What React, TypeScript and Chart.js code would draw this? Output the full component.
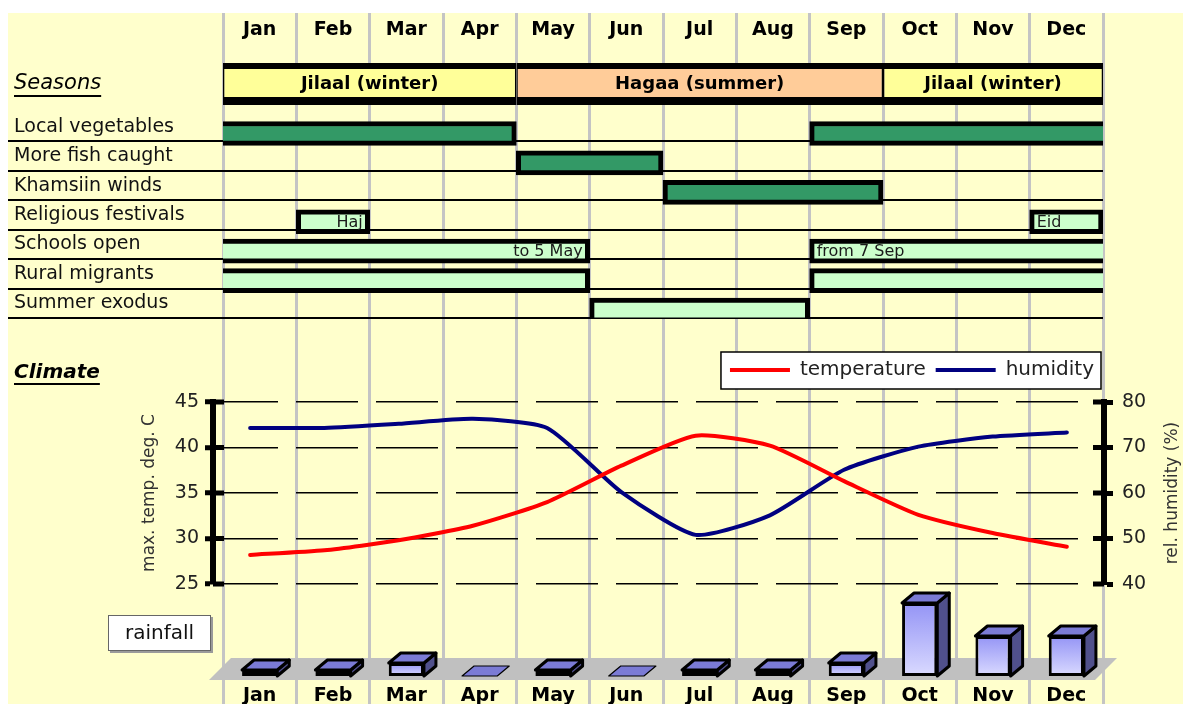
import React, { useEffect, useRef } from 'react';
import { Chart, registerables } from 'chart.js';

Chart.register(...registerables);

const W = 1183;
const H = 704;
const FONT = "'DejaVu Sans', 'Liberation Sans', Arial, sans-serif";
Chart.defaults.font.family = FONT;
Chart.defaults.color = '#222';

// ---------------- data ----------------
const months = ['Jan', 'Feb', 'Mar', 'Apr', 'May', 'Jun', 'Jul', 'Aug', 'Sep', 'Oct', 'Nov', 'Dec'];

const seasonsTitle = 'Seasons';
const seasonNames = ['Jilaal (winter)', 'Hagaa (summer)', 'Jilaal (winter)'];
const seasonStart = [0, 4, 9];
const seasonEnd = [4, 9, 12];

const activityRows = [
  'Local vegetables',
  'More fish caught',
  'Khamsiin winds',
  'Religious festivals',
  'Schools open',
  'Rural migrants',
  'Summer exodus',
];
const rowGroup = ['nature', 'nature', 'nature', 'society', 'society', 'society', 'society'];
const spanRow = [0, 0, 1, 2, 3, 3, 4, 4, 5, 5, 6];
const spanStart = [0, 8, 4, 6, 1, 11, 0, 8, 0, 8, 5];
const spanEnd = [4, 12, 6, 9, 2, 12, 5, 12, 5, 12, 8];
const spanNote = ['', '', '', '', 'Haj', 'Eid', 'to 5 May', 'from 7 Sep', '', '', ''];
const spanNoteAt = ['', '', '', '', 'end', 'start', 'end', 'start', '', '', ''];

const climateTitle = 'Climate';
const temperature = [28.2, 28.7, 29.8, 31.4, 34.0, 38.0, 41.3, 40.2, 36.3, 32.6, 30.6, 29.1];
const humidity = [74.3, 74.3, 75.2, 76.3, 74.3, 60.2, 50.8, 55.1, 65.1, 70.2, 72.4, 73.3];
const tempAxis = { min: 25, max: 45, step: 5, title: 'max. temp. deg. C' };
const humAxis = { min: 40, max: 80, step: 10, title: 'rel. humidity (%)' };

const rainfall = [3, 3, 6.5, 0, 3, 0, 3, 3, 6.5, 36.5, 20, 20];
const rainMax = 45;

// ---------------- charts ----------------
function makeBackground(canvas: HTMLCanvasElement) {
  return new Chart(canvas, {
    type: 'scatter',
    data: { datasets: [] },
    options: {
      responsive: false,
      animation: false,
      events: [],
      layout: { padding: { left: 223, right: 80, top: 13, bottom: 0 } },
      plugins: { legend: { display: false }, tooltip: { enabled: false } },
      scales: {
        x: {
          type: 'linear',
          min: 0,
          max: months.length,
          ticks: { display: false, stepSize: 1 },
          grid: { color: '#C4C4C4', lineWidth: 3, drawTicks: false },
          border: { display: false },
        },
        y: { display: false },
      },
    },
  } as any);
}

const seasonPlugin = {
  id: 'seasonText',
  afterDatasetsDraw(chart: any) {
    const { ctx } = chart;
    const meta = chart.getDatasetMeta(0);
    ctx.save();
    ctx.font = `bold 18px ${FONT}`;
    ctx.fillStyle = '#000';
    ctx.textAlign = 'center';
    ctx.textBaseline = 'middle';
    meta.data.forEach((bar: any, i: number) => {
      const p = bar.getProps(['x', 'base', 'y'], true);
      ctx.fillText(seasonNames[i], (p.x + p.base) / 2, p.y);
    });
    const ys = chart.scales.y;
    ctx.font = `italic 21px ${FONT}`;
    const w = ctx.measureText(seasonsTitle).width;
    ctx.fillRect(ys.left, ys.getPixelForValue(0) + 11, w, 2);
    ctx.restore();
  },
};

function makeHeader(canvas: HTMLCanvasElement) {
  return new Chart(canvas, {
    type: 'bar',
    data: {
      labels: [seasonsTitle],
      datasets: [
        {
          data: seasonNames.map((_, i) => ({ x: [seasonStart[i], seasonEnd[i]], y: seasonsTitle })),
          backgroundColor: ['#FFFF99', '#FFCC99', '#FFFF99'],
          borderColor: '#000',
          borderWidth: { top: 6, bottom: 8, left: 1.5, right: 1.5 },
          borderSkipped: false,
          barPercentage: 1,
          categoryPercentage: 0.75,
          xAxisID: 'x',
          yAxisID: 'y',
        },
      ],
    },
    options: {
      indexAxis: 'y',
      responsive: false,
      animation: false,
      events: [],
      layout: { padding: { left: 14, right: 80, top: 19, bottom: 592 } },
      plugins: { legend: { display: false }, tooltip: { enabled: false } },
      scales: {
        x: { type: 'linear', min: 0, max: months.length, display: false },
        xm: {
          type: 'category',
          labels: months,
          position: 'top',
          offset: true,
          afterFit: (s: any) => {
            s.height = 37;
          },
          grid: { display: false, drawTicks: false },
          border: { display: false },
          ticks: { font: { size: 19, weight: 'bold' }, color: '#000', padding: 15, maxRotation: 0, autoSkip: false },
        },
        y: {
          type: 'category',
          labels: [seasonsTitle],
          position: 'left',
          offset: true,
          afterFit: (s: any) => {
            s.width = 209;
          },
          grid: { display: false, drawTicks: false },
          border: { display: false },
          ticks: { crossAlign: 'far', font: { size: 21, style: 'italic' }, color: '#000', padding: 0 },
        },
      },
    },
    plugins: [seasonPlugin],
  } as any);
}

const notePlugin = {
  id: 'spanNotes',
  afterDatasetsDraw(chart: any) {
    const { ctx } = chart;
    const meta = chart.getDatasetMeta(0);
    ctx.save();
    ctx.font = `16px ${FONT}`;
    ctx.fillStyle = '#1a1a1a';
    ctx.textBaseline = 'middle';
    meta.data.forEach((bar: any, i: number) => {
      if (!spanNote[i]) return;
      const p = bar.getProps(['x', 'base', 'y'], true);
      const lo = Math.min(p.x, p.base);
      const hi = Math.max(p.x, p.base);
      if (spanNoteAt[i] === 'end') {
        ctx.textAlign = 'right';
        ctx.fillText(spanNote[i], hi - 7, p.y + 1);
      } else {
        ctx.textAlign = 'left';
        ctx.fillText(spanNote[i], lo + 7, p.y + 1);
      }
    });
    ctx.restore();
  },
};

function makeGantt(canvas: HTMLCanvasElement) {
  return new Chart(canvas, {
    type: 'bar',
    data: {
      datasets: [
        {
          data: spanRow.map((r, i) => ({ x: [spanStart[i], spanEnd[i]], y: r })),
          backgroundColor: (c: any) =>
            rowGroup[spanRow[c.dataIndex] ?? 0] === 'nature' ? '#339966' : '#CCFFCC',
          borderColor: '#000',
          borderWidth: (c: any) => {
            const i = c.dataIndex ?? 0;
            return {
              top: 5,
              bottom: 5,
              left: spanStart[i] === 0 ? 0 : 5,
              right: spanEnd[i] === months.length && spanEnd[i] - spanStart[i] > 1 ? 0 : 5,
            };
          },
          borderSkipped: false,
          barThickness: 24,
          xAxisID: 'x',
          yAxisID: 'yb',
        },
      ],
    },
    options: {
      indexAxis: 'y',
      responsive: false,
      animation: false,
      events: [],
      layout: { padding: { left: 14, right: 80, top: 112, bottom: 386 } },
      plugins: { legend: { display: false }, tooltip: { enabled: false } },
      scales: {
        x: { type: 'linear', min: 0, max: months.length, display: false },
        yb: {
          type: 'linear',
          reverse: true,
          offset: false,
          bounds: 'data',
          grace: 0,
          min: -0.73,
          max: activityRows.length - 0.73,
          display: false,
        },
        y: {
          type: 'category',
          labels: activityRows,
          position: 'left',
          offset: true,
          afterFit: (s: any) => {
            s.width = 209;
          },
          grid: {
            offset: true,
            color: (c: any) => (c.index === 0 ? 'rgba(0,0,0,0)' : '#000'),
            lineWidth: 2,
            tickLength: 215,
          },
          border: { display: false },
          ticks: { crossAlign: 'far', font: { size: 19 }, color: '#111', padding: 0, autoSkip: false },
        },
      },
    },
    plugins: [notePlugin],
  } as any);
}

const climatePlugin = {
  id: 'climateExtras',
  beforeDraw(chart: any) {
    const lg = chart.legend;
    if (!lg || !lg.legendHitBoxes || !lg.legendHitBoxes.length) return;
    const hb = lg.legendHitBoxes;
    const first = hb[0];
    const last = hb[hb.length - 1];
    const l = first.left - 9;
    const r = last.left + last.width + 7;
    const t = first.top - 8;
    const b = first.top + first.height + 9;
    const { ctx } = chart;
    ctx.save();
    ctx.fillStyle = '#fff';
    ctx.fillRect(l, t, r - l, b - t);
    ctx.strokeStyle = '#000';
    ctx.lineWidth = 1.5;
    ctx.strokeRect(l, t, r - l, b - t);
    ctx.restore();
  },
  afterDraw(chart: any) {
    const { ctx, chartArea: ca } = chart;
    const yT = chart.scales.yT;
    const yH = chart.scales.yH;
    ctx.save();
    // inner half of the heavy tick marks (they cross the axis line)
    ctx.fillStyle = '#000';
    yT.ticks.forEach((_: any, i: number) => {
      const py = yT.getPixelForTick(i);
      ctx.fillRect(ca.left, py - 2.5, 11, 5);
    });
    yH.ticks.forEach((_: any, i: number) => {
      const py = yH.getPixelForTick(i);
      ctx.fillRect(ca.right - 11, py - 2.5, 11, 5);
    });

    ctx.font = `17px ${FONT}`;
    ctx.fillStyle = '#333';
    ctx.textAlign = 'center';
    ctx.textBaseline = 'middle';
    ctx.translate(yH.right - 10, (yH.top + yH.bottom) / 2);
    ctx.rotate(-Math.PI / 2);
    ctx.fillText(humAxis.title, 0, 0);
    ctx.restore();

    ctx.save();
    ctx.font = `italic bold 20px ${FONT}`;
    ctx.fillStyle = '#000';
    ctx.textAlign = 'left';
    ctx.textBaseline = 'middle';
    ctx.fillText(climateTitle, 14, 373);
    const w = ctx.measureText(climateTitle).width;
    ctx.fillRect(14, 383, w, 2);
    ctx.restore();
  },
};

function makeClimate(canvas: HTMLCanvasElement) {
  return new Chart(canvas, {
    type: 'line',
    data: {
      labels: months,
      datasets: [
        {
          label: 'temperature',
          data: temperature,
          borderColor: '#FF0000',
          backgroundColor: '#FF0000',
          borderWidth: 4,
          pointRadius: 0,
          tension: 0.2,
          borderCapStyle: 'round',
          borderJoinStyle: 'round',
          yAxisID: 'yT',
        },
        {
          label: 'humidity',
          data: humidity,
          borderColor: '#000080',
          backgroundColor: '#000080',
          borderWidth: 4,
          pointRadius: 0,
          tension: 0.2,
          borderCapStyle: 'round',
          borderJoinStyle: 'round',
          yAxisID: 'yH',
        },
      ],
    },
    options: {
      responsive: false,
      animation: false,
      events: [],
      layout: { padding: { left: 139, right: 0, top: 350, bottom: 120 } },
      plugins: {
        tooltip: { enabled: false },
        legend: {
          position: 'top',
          align: 'end',
          fullSize: false,
          labels: {
            usePointStyle: true,
            pointStyle: 'line',
            pointStyleWidth: 60,
            font: { size: 20 },
            color: '#222',
            padding: 10,
          },
        },
      },
      scales: {
        x: {
          type: 'category',
          position: 'top',
          offset: true,
          ticks: { display: false },
          grid: { display: true, drawOnChartArea: false, drawTicks: true, tickLength: 12, tickColor: 'rgba(0,0,0,0)' },
          border: { display: false },
        },
        yT: {
          type: 'linear',
          position: 'left',
          min: tempAxis.min,
          max: tempAxis.max,
          afterFit: (s: any) => {
            s.width = 74;
          },
          ticks: { stepSize: tempAxis.step, font: { size: 19 }, color: '#222', padding: 6 },
          title: { display: true, text: tempAxis.title, font: { size: 17 }, color: '#333', padding: 0 },
          grid: {
            color: '#000',
            lineWidth: 1.5,
            tickLength: 8,
            tickWidth: 5,
            tickColor: '#000',
            tickBorderDash: [],
          },
          border: { display: true, color: '#000', width: 6, dash: [62, 18], dashOffset: 0 },
        },
        yH: {
          type: 'linear',
          position: 'right',
          min: humAxis.min,
          max: humAxis.max,
          afterFit: (s: any) => {
            s.width = 79;
          },
          ticks: { stepSize: humAxis.step, font: { size: 19 }, color: '#222', padding: 9 },
          grid: { drawOnChartArea: false, tickLength: 9, tickWidth: 5, tickColor: '#000' },
          border: { display: true, color: '#000', width: 6 },
        },
      },
    },
    plugins: [climatePlugin],
  } as any);
}

const DEPTH_X = 12;
const DEPTH_Y = 10;

const rainPlugin = {
  id: 'rain3d',
  beforeDatasetsDraw(chart: any) {
    const { ctx, chartArea: ca } = chart;
    const base = chart.scales.y.getPixelForValue(0);
    ctx.save();
    ctx.fillStyle = '#C0C0C0';
    ctx.beginPath();
    ctx.moveTo(ca.left - 14, base + 4);
    ctx.lineTo(ca.left + 8, base - 18);
    ctx.lineTo(ca.right + 14, base - 18);
    ctx.lineTo(ca.right - 8, base + 4);
    ctx.closePath();
    ctx.fill();

    // legend-like label box
    const label = chart.data.datasets[0].label;
    const bx = ca.left - 115;
    const by = base - 61;
    const bw = 103;
    const bh = 36;
    ctx.fillStyle = '#9a9a9a';
    ctx.fillRect(bx + 2, by + 2, bw, bh);
    ctx.fillStyle = '#fff';
    ctx.fillRect(bx, by, bw, bh);
    ctx.strokeStyle = '#666';
    ctx.lineWidth = 1;
    ctx.strokeRect(bx + 0.5, by + 0.5, bw - 1, bh - 1);
    ctx.fillStyle = '#111';
    ctx.font = `20px ${FONT}`;
    ctx.textAlign = 'center';
    ctx.textBaseline = 'middle';
    ctx.fillText(label, bx + bw / 2, by + bh / 2 + 1);
    ctx.restore();
  },
  afterDatasetsDraw(chart: any) {
    const { ctx } = chart;
    const meta = chart.getDatasetMeta(0);
    ctx.save();
    ctx.lineJoin = 'round';
    meta.data.forEach((bar: any, i: number) => {
      const p = bar.getProps(['x', 'y', 'base', 'width'], true);
      const x0 = p.x - p.width / 2;
      const x1 = p.x + p.width / 2;
      const lw = rainfall[i] > 0 ? 3 : 1.2;
      ctx.lineWidth = lw;
      ctx.strokeStyle = '#000';
      if (p.base - p.y > 0.5) {
        ctx.beginPath();
        ctx.moveTo(x1, p.y);
        ctx.lineTo(x1 + DEPTH_X, p.y - DEPTH_Y);
        ctx.lineTo(x1 + DEPTH_X, p.base - DEPTH_Y);
        ctx.lineTo(x1, p.base);
        ctx.closePath();
        ctx.fillStyle = '#50508C';
        ctx.fill();
        ctx.stroke();
      }
      ctx.beginPath();
      ctx.moveTo(x0, p.y);
      ctx.lineTo(x0 + DEPTH_X, p.y - DEPTH_Y);
      ctx.lineTo(x1 + DEPTH_X, p.y - DEPTH_Y);
      ctx.lineTo(x1, p.y);
      ctx.closePath();
      ctx.fillStyle = '#7B7BD5';
      ctx.fill();
      ctx.stroke();
    });
    ctx.restore();
  },
};

function makeRain(canvas: HTMLCanvasElement) {
  return new Chart(canvas, {
    type: 'bar',
    data: {
      labels: months,
      datasets: [
        {
          label: 'rainfall',
          data: rainfall,
          backgroundColor: (c: any) => {
            const ch = c.chart;
            const ys = ch.scales && ch.scales.y;
            if (c.type !== 'data' || !ys || !ch.chartArea) return '#A0A0FF';
            const top = ys.getPixelForValue(c.raw);
            const base = ys.getPixelForValue(0);
            if (base - top < 1) return '#A0A0FF';
            const g = ch.ctx.createLinearGradient(0, top, 0, base);
            g.addColorStop(0, '#9494F5');
            g.addColorStop(1, '#DADAFF');
            return g;
          },
          borderColor: '#000',
          borderWidth: 3,
          borderSkipped: false,
          barPercentage: 0.48,
          categoryPercentage: 1,
        },
      ],
    },
    options: {
      responsive: false,
      animation: false,
      events: [],
      layout: { padding: { left: 223, right: 80, top: 586, bottom: 0 } },
      plugins: { legend: { display: false }, tooltip: { enabled: false } },
      scales: {
        x: {
          type: 'category',
          offset: true,
          afterFit: (s: any) => {
            s.height = 28;
          },
          grid: { display: false, drawTicks: false },
          border: { display: false },
          ticks: { font: { size: 19, weight: 'bold' }, color: '#000', padding: 9, maxRotation: 0, autoSkip: false },
        },
        y: { type: 'linear', min: 0, max: rainMax, display: false },
      },
    },
    plugins: [rainPlugin],
  } as any);
}

export default function App() {
  const bgRef = useRef<HTMLCanvasElement>(null);
  const headRef = useRef<HTMLCanvasElement>(null);
  const ganttRef = useRef<HTMLCanvasElement>(null);
  const climRef = useRef<HTMLCanvasElement>(null);
  const rainRef = useRef<HTMLCanvasElement>(null);

  useEffect(() => {
    const charts = [
      makeBackground(bgRef.current as HTMLCanvasElement),
      makeHeader(headRef.current as HTMLCanvasElement),
      makeGantt(ganttRef.current as HTMLCanvasElement),
      makeClimate(climRef.current as HTMLCanvasElement),
      makeRain(rainRef.current as HTMLCanvasElement),
    ];
    return () => charts.forEach((c) => c.destroy());
  }, []);

  const cs: React.CSSProperties = { position: 'absolute', left: 0, top: 0, width: W, height: H };
  return (
    <div style={{ position: 'absolute', left: 0, top: 0, width: W, height: H, background: '#fff', overflow: 'hidden' }}>
      <div style={{ position: 'absolute', left: 8, top: 13, right: 0, bottom: 0, background: '#FFFFCC' }} />
      <canvas ref={bgRef} width={W} height={H} style={cs} />
      <canvas ref={headRef} width={W} height={H} style={cs} />
      <canvas ref={ganttRef} width={W} height={H} style={cs} />
      <canvas ref={climRef} width={W} height={H} style={cs} />
      <canvas ref={rainRef} width={W} height={H} style={cs} />
    </div>
  );
}
